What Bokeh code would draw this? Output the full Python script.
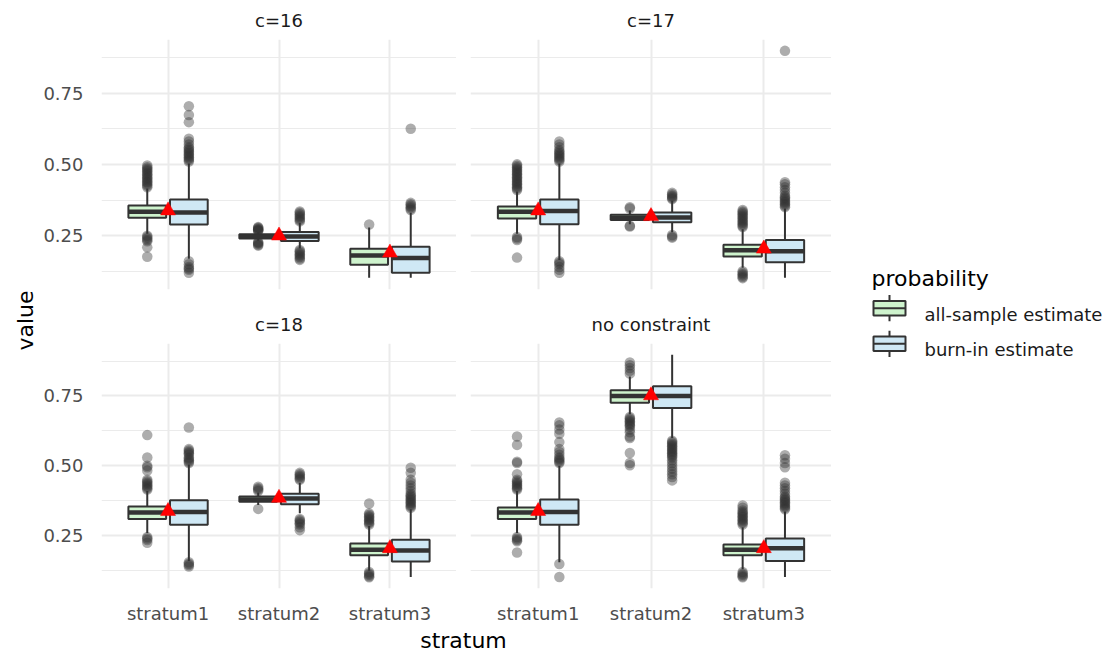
import math
from bokeh.plotting import figure
from bokeh.models import (FactorRange, Range1d, FixedTicker, PrintfTickFormatter,
                          ColumnDataSource)
from bokeh.transform import dodge
from bokeh.layouts import row, column
from bokeh.core.properties import value
from bokeh.embed import file_html
from bokeh.resources import INLINE

# ---------------- data ----------------
facets = ["c=16", "c=17", "c=18", "no constraint"]
strata = ["stratum1", "stratum2", "stratum3"]
series = ["all-sample estimate", "burn-in estimate"]
legend_title = "probability"

# order: facet -> stratum -> series (all-sample, burn-in)
lower = [0.257, 0.169, 0.232, 0.205, 0.102, 0.102,
         0.257, 0.165, 0.290, 0.262, 0.137, 0.102,
         0.260, 0.160, 0.360, 0.330, 0.125, 0.102,
         0.260, 0.155, 0.685, 0.600, 0.130, 0.102]
q1 = [0.313, 0.289, 0.240, 0.231, 0.148, 0.120,
      0.310, 0.290, 0.305, 0.297, 0.177, 0.157,
      0.310, 0.289, 0.372, 0.363, 0.180, 0.158,
      0.310, 0.289, 0.726, 0.707, 0.180, 0.160]
median = [0.334, 0.331, 0.247, 0.247, 0.180, 0.172,
          0.334, 0.336, 0.313, 0.314, 0.199, 0.195,
          0.333, 0.335, 0.380, 0.383, 0.200, 0.197,
          0.333, 0.335, 0.750, 0.750, 0.200, 0.205]
q3 = [0.356, 0.377, 0.255, 0.263, 0.204, 0.211,
      0.352, 0.377, 0.323, 0.331, 0.218, 0.235,
      0.355, 0.377, 0.390, 0.400, 0.222, 0.236,
      0.351, 0.380, 0.771, 0.785, 0.219, 0.240]
upper = [0.415, 0.503, 0.262, 0.295, 0.279, 0.330,
         0.405, 0.503, 0.338, 0.372, 0.272, 0.345,
         0.410, 0.505, 0.405, 0.440, 0.285, 0.345,
         0.410, 0.500, 0.820, 0.898, 0.280, 0.337]
outliers = [
    # c=16
    [0.42, 0.425, 0.43, 0.436, 0.44, 0.445, 0.45, 0.455, 0.46, 0.465, 0.47, 0.476, 0.48, 0.485, 0.49, 0.496,
     0.25, 0.245, 0.24, 0.235, 0.23, 0.209, 0.176],
    [0.51, 0.515, 0.52, 0.525, 0.53, 0.535, 0.54, 0.545, 0.55, 0.555, 0.56, 0.57, 0.58, 0.59, 0.648, 0.673, 0.704,
     0.16, 0.15, 0.14, 0.135, 0.13, 0.12],
    [0.266, 0.268, 0.27, 0.272, 0.275, 0.278, 0.28, 0.228, 0.225, 0.222, 0.218, 0.215],
    [0.30, 0.305, 0.31, 0.315, 0.32, 0.325, 0.33, 0.335, 0.20, 0.195, 0.19, 0.185, 0.18, 0.175, 0.17, 0.165],
    [0.289],
    [0.34, 0.345, 0.35, 0.355, 0.36, 0.365, 0.625],
    # c=17
    [0.41, 0.415, 0.42, 0.425, 0.43, 0.435, 0.44, 0.445, 0.45, 0.455, 0.46, 0.465, 0.47, 0.475, 0.48, 0.485,
     0.49, 0.495, 0.50, 0.245, 0.24, 0.235, 0.173],
    [0.51, 0.515, 0.52, 0.525, 0.53, 0.535, 0.54, 0.545, 0.55, 0.56, 0.57, 0.58,
     0.16, 0.155, 0.15, 0.14, 0.13, 0.12],
    [0.345, 0.35, 0.285, 0.282],
    [0.378, 0.382, 0.386, 0.39, 0.395, 0.40, 0.252, 0.247, 0.243],
    [0.28, 0.285, 0.29, 0.295, 0.30, 0.305, 0.31, 0.315, 0.32, 0.325, 0.33, 0.335, 0.34,
     0.125, 0.12, 0.115, 0.11, 0.105, 0.101],
    [0.35, 0.355, 0.36, 0.365, 0.37, 0.375, 0.38, 0.385, 0.39, 0.40, 0.41, 0.42, 0.43, 0.437, 0.898],
    # c=18
    [0.415, 0.42, 0.425, 0.43, 0.435, 0.44, 0.445, 0.45, 0.483, 0.495, 0.50, 0.53, 0.61,
     0.245, 0.24, 0.235, 0.225],
    [0.51, 0.515, 0.52, 0.525, 0.53, 0.54, 0.545, 0.55, 0.555, 0.56, 0.637, 0.155, 0.15, 0.145, 0.14],
    [0.41, 0.415, 0.42, 0.425, 0.346],
    [0.45, 0.455, 0.46, 0.465, 0.47, 0.475, 0.31, 0.305, 0.30, 0.295, 0.29, 0.28, 0.27],
    [0.29, 0.295, 0.30, 0.305, 0.31, 0.315, 0.32, 0.325, 0.33, 0.365, 0.12, 0.115, 0.11, 0.105, 0.101],
    [0.35, 0.355, 0.36, 0.365, 0.37, 0.375, 0.38, 0.385, 0.39, 0.395, 0.40, 0.41, 0.42, 0.43, 0.44, 0.45,
     0.475, 0.493],
    # no constraint
    [0.415, 0.42, 0.425, 0.43, 0.435, 0.44, 0.445, 0.45, 0.47, 0.51, 0.515, 0.575, 0.605,
     0.245, 0.24, 0.235, 0.23, 0.19],
    [0.51, 0.515, 0.52, 0.525, 0.53, 0.54, 0.55, 0.56, 0.585, 0.615, 0.63, 0.645, 0.655, 0.149, 0.102],
    [0.83, 0.84, 0.85, 0.86, 0.87, 0.675, 0.67, 0.665, 0.66, 0.655, 0.65, 0.645, 0.64, 0.63, 0.62,
     0.605, 0.60, 0.546, 0.51, 0.502],
    [0.59, 0.585, 0.58, 0.575, 0.57, 0.565, 0.56, 0.555, 0.55, 0.545, 0.54, 0.535, 0.53, 0.52, 0.51,
     0.50, 0.49, 0.48, 0.47, 0.46, 0.448],
    [0.29, 0.295, 0.30, 0.305, 0.31, 0.315, 0.32, 0.325, 0.33, 0.335, 0.34, 0.35, 0.358,
     0.12, 0.115, 0.11, 0.105, 0.101],
    [0.345, 0.35, 0.355, 0.36, 0.365, 0.37, 0.375, 0.38, 0.385, 0.39, 0.40, 0.41, 0.42, 0.43, 0.44,
     0.495, 0.51, 0.525, 0.538],
]
# overall mean per facet -> stratum (red triangles)
means = [0.338, 0.250, 0.190,
         0.338, 0.318, 0.204,
         0.338, 0.385, 0.205,
         0.338, 0.752, 0.205]

y_ticks = [0.25, 0.50, 0.75]
y_minor = [0.125, 0.375, 0.625, 0.875]

# ---------------- style ----------------
FONT = "DejaVu Sans"
FILLS = ["#CEF3CD", "#CFE8F5"]
EDGE = "#333333"
GRID = "#EBEBEB"
OFFS = [-0.1875, 0.1875]
BOX_W = 0.34

allv = lower + upper + [v for o in outliers for v in o] + means
lo, hi = min(allv), max(allv)
pad = 0.05 * (hi - lo)


def panel(fi, show_x, show_y, width, height, left, bottom):
    p = figure(x_range=FactorRange(factors=strata, range_padding=0.1, range_padding_units="absolute"),
               y_range=Range1d(lo - pad, hi + pad), width=width, height=height,
               output_backend="svg", toolbar_location=None,
               min_border_left=left, min_border_right=0, min_border_top=39, min_border_bottom=bottom,
               title=facets[fi])
    # strip label: centred in the 39px strip above the panel
    p.title.align = "center"
    p.title.vertical_align = "middle"
    p.title.standoff = 15
    p.title.text_font = FONT
    p.title.text_font_size = "18px"
    p.title.text_font_style = "normal"
    p.title.text_color = "#1A1A1A"
    p.outline_line_color = None
    p.background_fill_color = "white"
    p.border_fill_color = "white"

    tk = FixedTicker(ticks=y_ticks, minor_ticks=y_minor)
    p.yaxis.ticker = tk
    p.ygrid.ticker = tk
    p.yaxis.formatter = PrintfTickFormatter(format="%.2f")
    p.ygrid.grid_line_color = GRID
    p.ygrid.grid_line_width = 2
    p.ygrid.minor_grid_line_color = GRID
    p.ygrid.minor_grid_line_width = 1
    p.xgrid.grid_line_color = GRID
    p.xgrid.grid_line_width = 2
    for ax in (p.xaxis, p.yaxis):
        ax.axis_line_color = None
        ax.major_tick_line_color = None
        ax.minor_tick_line_color = None
        ax.major_label_text_font = FONT
        ax.major_label_text_font_size = "18px"
        ax.major_label_text_color = "#4D4D4D"
    p.yaxis.major_label_standoff = 12
    p.xaxis.major_label_standoff = 8
    p.xaxis.visible = show_x
    p.yaxis.visible = show_y

    for si in range(2):
        idx = [fi * 6 + k * 2 + si for k in range(3)]
        src = ColumnDataSource(dict(
            stratum=strata,
            lower=[lower[i] for i in idx], q1=[q1[i] for i in idx],
            median=[median[i] for i in idx], q3=[q3[i] for i in idx],
            upper=[upper[i] for i in idx]))
        ox, oy = [], []
        for k, i in enumerate(idx):
            ox += [strata[k]] * len(outliers[i])
            oy += outliers[i]
        osrc = ColumnDataSource(dict(stratum=ox, y=oy))
        off = OFFS[si]
        xc = dodge("stratum", off, range=p.x_range)
        p.scatter(x=xc, y="y", source=osrc, size=10.5, fill_color=EDGE, fill_alpha=0.4,
                  line_color=None)
        p.segment(x0=xc, x1=xc, y0="upper", y1="q3", source=src, line_color=EDGE, line_width=2)
        p.segment(x0=xc, x1=xc, y0="lower", y1="q1", source=src, line_color=EDGE, line_width=2)
        p.vbar(x=xc, width=BOX_W, top="q3", bottom="q1", source=src, fill_color=FILLS[si],
               line_color=EDGE, line_width=2)
        p.segment(x0=dodge("stratum", off - BOX_W / 2, range=p.x_range),
                  x1=dodge("stratum", off + BOX_W / 2, range=p.x_range),
                  y0="median", y1="median", source=src, line_color=EDGE, line_width=4.5)
    msrc = ColumnDataSource(dict(stratum=strata, m=means[fi * 3: fi * 3 + 3]))
    p.scatter(x="stratum", y="m", source=msrc, marker="triangle", size=15, fill_color="red",
              line_color="red", line_width=0.5)
    return p


tl = panel(0, False, True, 416, 304, 55, 15)
tr = panel(1, False, False, 375, 304, 14, 15)
bl = panel(2, True, True, 416, 322, 55, 33)
br = panel(3, True, False, 375, 322, 14, 33)


def title_axis(ax, text):
    ax.visible = True
    ax.ticker = FixedTicker(ticks=[])
    ax.axis_line_color = None
    ax.major_tick_line_color = None
    ax.minor_tick_line_color = None
    ax.axis_label = text
    ax.axis_label_text_font = FONT
    ax.axis_label_text_font_size = "22px"
    ax.axis_label_text_font_style = "normal"
    ax.axis_label_text_color = "black"
    ax.axis_label_standoff = 1


# y axis title ("value"), centred on the panel column
yt = figure(width=40, height=654, x_range=Range1d(0, 1), y_range=Range1d(0, 1),
            output_backend="svg", toolbar_location=None, x_axis_location=None,
            min_border_left=38, min_border_right=0, min_border_top=43, min_border_bottom=57)
yt.grid.visible = False
yt.outline_line_color = None
title_axis(yt.yaxis, "value")

# x axis title ("stratum"), centred under both panel columns
xt = figure(width=791, height=28, x_range=Range1d(0, 1), y_range=Range1d(0, 1),
            output_backend="svg", toolbar_location=None, y_axis_location=None,
            min_border_left=55, min_border_right=0, min_border_top=0, min_border_bottom=26)
xt.grid.visible = False
xt.outline_line_color = None
title_axis(xt.xaxis, "stratum")

# legend (drawn in its own pixel-scaled canvas)
lg = figure(width=272, height=654, x_range=Range1d(831, 1103), y_range=Range1d(654, 0),
            output_backend="svg", toolbar_location=None, x_axis_location=None,
            y_axis_location=None, min_border=0)
lg.grid.visible = False
lg.outline_line_color = None
lg.text(x=[871], y=[277], text=[legend_title], text_font=value(FONT), text_font_size="22px",
        text_baseline="alphabetic", text_align="left", text_color="black")
key_y = [312.5, 354.5]
kx = [889, 889]
ksrc = ColumnDataSource(dict(x=kx, y=key_y, top=[y - 8.5 for y in key_y], bot=[y + 8.5 for y in key_y],
                             wt=[y - 15.5 for y in key_y], wb=[y + 15.5 for y in key_y],
                             x0=[x - 16 for x in kx], x1=[x + 16 for x in kx],
                             fill=FILLS, label=series, tx=[924, 924], ty=[320.5, 361.5]))
lg.segment(x0="x", x1="x", y0="wt", y1="wb", source=ksrc, line_color=EDGE, line_width=2)
lg.vbar(x="x", width=32, top="top", bottom="bot", fill_color="fill", source=ksrc,
        line_color=EDGE, line_width=2)
lg.segment(x0="x0", x1="x1", y0="y", y1="y", source=ksrc, line_color=EDGE, line_width=2)
lg.text(x="tx", y="ty", text="label", source=ksrc, text_font=value(FONT), text_font_size="18px",
        text_baseline="alphabetic", text_align="left", text_color="#1A1A1A")

layout = row(yt, column(row(tl, tr), row(bl, br), xt), lg)

open("out.html", "w").write(file_html(layout, INLINE, title="plot"))
